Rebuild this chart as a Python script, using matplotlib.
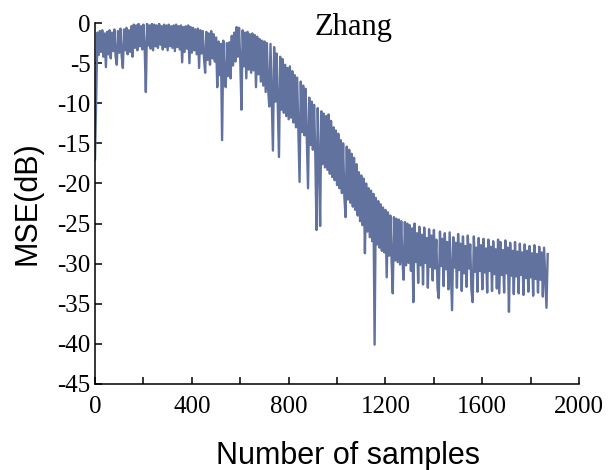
import matplotlib
matplotlib.use('Agg')
import matplotlib.pyplot as plt
import numpy as np

# MSE curve, one value read every 5 samples (0 .. 1870)
step = 5
mse_db = [
    -17.0, -9.0, -1.2, -4.0, -1.0, -3.6, -0.9, -4.2, -1.3, -5.5,
    -1.1, -3.9, -0.9, -4.4, -1.2, -3.5, -0.8, -4.1, -5.2, -1.0,
    -3.7, -0.7, -4.0, -5.6, -0.8, -3.4, -0.6, -3.9, -0.9, -3.6,
    -0.4, -4.2, -0.2, -3.1, -0.3, -3.4, -0.1, -2.9, -0.4, -3.3,
    -0.2, -3.0, -8.6, -0.1, -2.8, -0.3, -3.2, -0.1, -3.4, -0.2,
    -2.9, -0.3, -3.1, -0.1, -2.7, -0.4, -3.3, -0.2, -3.0, -0.3,
    -3.4, -0.2, -2.9, -0.4, -3.1, -0.3, -3.5, -0.2, -3.0, -0.4,
    -3.3, -0.3, -4.9, -0.5, -3.6, -0.4, -3.2, -0.3, -5.0, -0.5,
    -3.7, -0.6, -3.4, -0.8, -3.9, -0.7, -5.6, -0.9, -3.8, -1.0,
    -4.3, -6.2, -1.1, -4.6, -1.3, -5.2, -1.0, -4.4, -1.4, -4.8,
    -1.8, -8.0, -2.3, -6.5, -2.6, -14.6, -2.2, -7.0, -8.0, -2.5,
    -6.6, -2.4, -6.9, -1.6, -5.3, -1.2, -4.8, -0.5, -4.2, -0.6,
    -4.6, -10.8, -0.9, -5.4, -1.2, -6.9, -1.1, -5.8, -1.4, -6.2,
    -1.3, -5.9, -1.5, -8.0, -1.7, -6.4, -2.0, -7.3, -2.2, -7.8,
    -2.3, -8.6, -2.5, -8.2, -10.4, -2.6, -9.0, -15.9, -3.0, -9.8,
    -3.8, -10.3, -16.7, -4.2, -10.8, -4.5, -11.2, -5.2, -11.6, -5.6,
    -12.0, -5.4, -11.8, -6.0, -12.4, -6.5, -13.0, -6.8, -13.4, -19.8,
    -7.3, -13.6, -7.8, -14.0, -8.2, -14.4, -20.6, -9.3, -15.2, -9.8,
    -15.8, -10.2, -16.3, -25.8, -10.6, -17.0, -25.3, -11.0, -17.6, -11.3,
    -18.0, -11.6, -18.3, -11.4, -18.8, -12.2, -19.2, -13.0, -19.6, -13.4,
    -20.2, -13.8, -20.6, -14.6, -21.2, -15.0, -21.6, -24.2, -15.4, -22.0,
    -15.8, -22.4, -16.3, -22.9, -16.8, -23.3, -17.6, -24.0, -18.6, -24.7,
    -19.0, -25.2, -19.4, -28.7, -20.0, -26.0, -20.6, -26.7, -20.9, -27.2,
    -21.3, -40.1, -21.8, -27.6, -22.2, -28.0, -22.6, -28.4, -23.0, -28.6,
    -23.3, -31.7, -23.6, -29.0, -24.0, -29.4, -33.7, -24.2, -29.6, -24.4,
    -29.8, -24.5, -30.1, -24.7, -29.7, -32.0, -24.8, -30.2, -25.0, -29.9,
    -25.2, -30.9, -25.6, -34.8, -25.0, -29.8, -26.2, -32.4, -25.4, -30.2,
    -26.4, -32.6, -25.5, -29.9, -26.8, -33.0, -25.7, -30.4, -26.5, -32.1,
    -25.8, -30.6, -27.0, -33.1, -34.3, -26.0, -30.3, -26.9, -32.8, -26.2,
    -30.7, -27.3, -33.2, -26.1, -31.0, -35.8, -26.7, -30.5, -27.4, -33.0,
    -26.3, -30.8, -27.5, -33.4, -26.6, -31.2, -27.8, -32.9, -26.5, -30.6,
    -27.6, -33.3, -34.8, -26.6, -31.0, -28.0, -33.5, -26.8, -30.9, -27.7,
    -33.2, -26.9, -31.1, -28.1, -33.6, -27.0, -30.9, -27.9, -33.4, -27.2,
    -31.3, -28.2, -33.1, -27.0, -33.7, -27.3, -31.4, -28.3, -33.6, -27.1,
    -31.2, -28.0, -36.0, -27.4, -31.5, -28.4, -33.8, -27.3, -31.6, -28.5,
    -33.7, -27.5, -31.4, -28.6, -33.9, -27.6, -31.8, -28.4, -33.5, -27.8,
    -31.7, -28.7, -34.0, -27.7, -31.9, -28.8, -33.6, -27.9, -32.0, -28.6,
    -34.1, -28.0, -31.8, -35.5, -28.8,
]
samples = np.arange(len(mse_db)) * step

x_ticks = list(range(0, 2001, 200))
x_ticklabels = [str(t) if t % 400 == 0 else '' for t in x_ticks]
y_ticks = list(range(-45, 1, 5))

fig = plt.figure(figsize=(6.09, 4.70), dpi=100)
ax = fig.add_axes([0.156, 0.183, 0.795, 0.768])

ax.plot(samples, mse_db, '-', color='#61729f', lw=1.7)

ax.set_xlim(0, 2000)
ax.set_ylim(-45, 0)
ax.spines['top'].set_visible(False)
ax.spines['right'].set_visible(False)
for s in ['left', 'bottom']:
    ax.spines[s].set_linewidth(1.1)

ax.set_xticks(x_ticks)
ax.set_xticklabels(x_ticklabels, family='Liberation Serif', fontsize=18)
ax.set_yticks(y_ticks)
ax.set_yticklabels([str(t) for t in y_ticks], family='Liberation Serif', fontsize=18)
ax.tick_params(axis='x', direction='in', length=5, width=1.1, pad=9)
ax.tick_params(axis='y', direction='in', length=5, width=1.1, pad=3)

ax.set_xlabel('Number of samples', family='Liberation Sans', fontsize=22)
ax.set_ylabel('MSE(dB)', family='Liberation Sans', fontsize=22)
ax.xaxis.set_label_coords(0.522, -0.158)
ax.yaxis.set_label_coords(-0.108, 0.5)

ax.text(0.535, 0.967, 'Zhang', transform=ax.transAxes, ha='center',
        va='baseline', family='Liberation Serif', fontsize=22)

fig.savefig('out.png', dpi=100)
